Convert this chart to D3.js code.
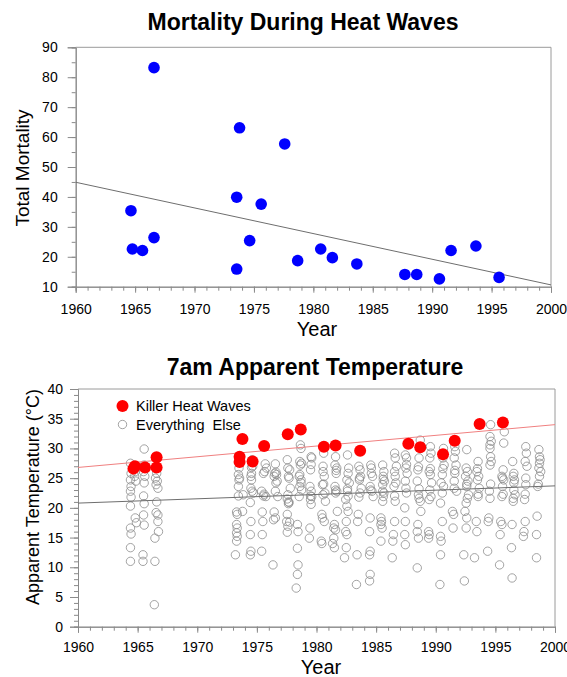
<!DOCTYPE html>
<html>
<head>
<meta charset="utf-8">
<script src="https://cdn.jsdelivr.net/npm/d3@7"></script>
<style>
  html, body { margin: 0; padding: 0; background: #fff; }
  svg { display: block; font-family: Arial, "Liberation Sans", sans-serif; }
</style>
</head>
<body>
<svg id="chart" width="567" height="677"></svg>
<script>
// Heat-wave events (decimal year of each event)
const heatYears = [1964.65, 1964.77, 1965.62, 1966.59, 1966.59, 1973.55, 1973.79, 1973.55, 1974.64, 1975.61,
  1977.59, 1978.68, 1980.62, 1981.60, 1983.66, 1987.70, 1988.70, 1990.61, 1991.59, 1993.68, 1995.63];
// Total deaths during each event
const mortality = [35.4, 22.6, 22.1, 83.2, 26.4, 39.9, 63.1, 15.9, 25.4, 37.6,
  57.7, 18.7, 22.6, 19.7, 17.6, 14.1, 14.1, 12.6, 22.1, 23.6, 13.1];
// 7am apparent temperature (°C) on each event day
const heatTemps = [26.6, 27.0, 26.8, 26.8, 28.5, 28.6, 31.6, 27.7, 27.8, 30.4,
  32.4, 33.2, 30.3, 30.5, 29.6, 30.8, 30.2, 29.0, 31.3, 34.1, 34.35];

// Fitted trend lines: [year, value] at both ends of the axis
const mortalityTrend = [[1960, 44.9], [2000, 10.6]];
const heatTrend = [[1960, 26.8], [2000, 34.0]];
const otherTrend = [[1960, 20.8], [2000, 23.7]];

// All other summer days: [decimal year, 7am apparent temperature]
const otherDays = [
  [1964.40,27.5],[1964.45,25.8],[1964.40,24.7],[1964.45,23.6],[1964.40,22.8],[1964.45,21.8],[1964.40,20.3],[1964.40,16.6],[1964.45,15.6],[1964.40,13.3],[1964.40,11.0],
  [1964.75,27.0],[1964.80,26.1],[1964.75,25.3],[1964.85,24.5],[1964.80,18.3],[1964.90,17.5],
  [1965.55,29.9],[1965.55,27.2],[1965.50,26.1],[1965.60,25.3],[1965.55,24.2],[1965.50,22.0],[1965.55,20.7],[1965.50,18.8],[1965.55,17.1],[1965.45,12.1],[1965.45,11.0],
  [1966.55,26.7],[1966.60,25.8],[1966.50,25.0],[1966.65,24.5],[1966.55,23.9],[1966.70,23.3],[1966.60,21.0],[1966.55,19.2],[1966.70,18.8],[1966.70,17.7],[1966.75,16.0],[1966.45,14.9],[1966.45,11.0],[1966.40,3.7],
  [1973.55,27.8],[1973.50,26.7],[1973.45,25.6],[1973.50,24.7],[1973.45,23.6],[1973.30,19.3],[1973.35,18.9],[1973.30,17.2],[1973.35,16.6],[1973.30,15.8],[1973.35,15.2],[1973.30,14.4],[1973.20,12.1],[1973.85,22.2],[1973.80,19.4],[1973.55,25.0],[1973.45,22.0],
  [1974.60,28.1],[1974.55,26.8],[1974.50,25.3],[1974.55,24.7],[1974.60,22.8],[1974.70,22.5],[1974.45,20.9],[1974.50,17.7],[1974.45,15.5],[1974.50,12.7],[1974.45,12.1],[1974.55,25.8],[1974.65,27.0],[1974.50,23.3],
  [1975.70,27.4],[1975.80,26.7],[1975.55,25.8],[1975.40,22.8],[1975.60,22.3],[1975.75,21.9],[1975.45,19.3],[1975.50,17.7],[1975.45,15.5],[1975.40,12.7],[1975.65,26.1],[1975.55,22.0],
  [1976.55,27.4],[1976.50,25.8],[1976.65,25.6],[1976.45,25.3],[1976.70,24.5],[1976.60,24.2],[1976.55,22.8],[1976.75,21.9],[1976.45,19.3],[1976.55,18.3],[1976.35,10.4],[1976.60,26.0],[1976.40,18.0],
  [1977.55,28.1],[1977.60,26.7],[1977.75,26.4],[1977.65,25.3],[1977.80,23.3],[1977.60,22.2],[1977.55,21.5],[1977.70,20.9],[1977.65,20.7],[1977.55,18.9],[1977.50,17.7],[1977.60,16.9],[1977.55,15.9],[1977.75,17.6],[1977.70,25.0],[1977.65,21.0],
  [1978.65,30.6],[1978.70,30.0],[1978.60,27.8],[1978.75,27.5],[1978.65,27.2],[1978.55,25.3],[1978.70,24.7],[1978.60,23.6],[1978.75,23.0],[1978.55,21.9],[1978.40,17.2],[1978.45,16.0],[1978.40,13.2],[1978.45,10.4],[1978.40,8.8],[1978.30,6.5],[1978.60,25.6],[1978.70,24.2],
  [1979.55,28.6],[1979.60,28.4],[1979.50,26.4],[1979.45,23.6],[1979.55,22.8],[1979.60,21.9],[1979.50,21.4],[1979.55,20.6],[1979.45,16.6],[1979.40,14.9],[1979.50,22.0],[1979.55,27.3],
  [1980.60,29.2],[1980.55,26.1],[1980.65,25.3],[1980.50,23.9],[1980.70,22.5],[1980.55,22.2],[1980.75,21.1],[1980.45,18.9],[1980.50,18.3],[1980.65,17.7],[1980.40,14.4],[1980.45,14.0],[1980.60,24.0],[1980.55,27.0],
  [1981.60,28.6],[1981.55,27.2],[1981.70,26.7],[1981.65,25.8],[1981.55,23.6],[1981.70,22.8],[1981.60,22.5],[1981.75,19.4],[1981.50,17.2],[1981.45,16.6],[1981.60,16.3],[1981.45,14.9],[1981.35,14.0],[1981.50,13.3],[1981.65,26.3],[1981.60,23.0],
  [1982.60,28.9],[1982.70,26.7],[1982.65,25.8],[1982.55,24.7],[1982.75,24.2],[1982.60,22.8],[1982.45,21.4],[1982.55,20.3],[1982.65,19.4],[1982.50,17.7],[1982.45,16.0],[1982.55,15.5],[1982.50,13.3],[1982.35,11.6],[1982.60,23.2],[1982.65,22.0],
  [1983.55,27.0],[1983.65,26.4],[1983.70,25.3],[1983.60,24.7],[1983.75,23.3],[1983.55,21.8],[1983.50,18.9],[1983.45,17.7],[1983.40,12.1],[1983.35,7.1],[1983.60,25.0],[1983.65,22.5],
  [1984.55,27.2],[1984.60,26.7],[1984.70,25.3],[1984.50,23.6],[1984.65,22.8],[1984.75,21.9],[1984.50,18.3],[1984.45,16.0],[1984.50,12.7],[1984.45,12.1],[1984.50,8.8],[1984.45,7.7],[1984.60,25.8],[1984.55,23.0],
  [1985.55,27.2],[1985.65,26.1],[1985.60,25.3],[1985.70,24.5],[1985.55,23.9],[1985.65,22.5],[1985.60,21.9],[1985.55,21.1],[1985.40,18.3],[1985.45,17.7],[1985.40,17.2],[1985.50,16.6],[1985.40,14.4],[1985.60,24.8],[1985.55,22.8],
  [1986.55,29.2],[1986.60,28.4],[1986.70,27.0],[1986.55,26.1],[1986.65,24.2],[1986.50,23.6],[1986.60,21.1],[1986.55,17.7],[1986.45,15.5],[1986.40,14.4],[1986.35,11.6],[1986.60,25.3],[1986.55,22.0],
  [1987.45,28.9],[1987.55,28.4],[1987.50,26.7],[1987.60,25.8],[1987.45,24.5],[1987.40,20.0],[1987.45,17.7],[1987.40,15.5],[1987.45,13.8],[1987.55,27.3],[1987.50,23.3],[1987.55,22.5],
  [1988.70,31.4],[1988.60,28.4],[1988.50,26.4],[1988.45,24.5],[1988.55,22.2],[1988.60,21.6],[1988.70,21.1],[1988.75,19.4],[1988.50,17.2],[1988.45,16.0],[1988.55,14.9],[1988.45,9.9],[1988.55,26.9],[1988.60,23.2],
  [1989.55,30.3],[1989.60,29.2],[1989.50,28.4],[1989.45,26.1],[1989.55,25.6],[1989.65,24.2],[1989.45,21.4],[1989.40,16.0],[1989.45,15.5],[1989.40,14.9],[1989.55,26.6],[1989.50,23.0],[1989.60,21.9],
  [1990.65,30.0],[1990.60,28.4],[1990.70,27.2],[1990.55,25.6],[1990.45,24.2],[1990.65,23.6],[1990.40,20.8],[1990.55,17.7],[1990.40,15.2],[1990.45,14.4],[1990.40,12.1],[1990.35,7.1],[1990.60,26.6],[1990.55,22.5],
  [1991.60,30.3],[1991.65,29.5],[1991.55,28.4],[1991.70,27.2],[1991.60,25.8],[1991.55,24.5],[1991.75,22.8],[1991.40,19.4],[1991.50,18.9],[1991.45,16.6],[1991.60,26.3],[1991.55,23.3],
  [1992.60,29.8],[1992.55,26.7],[1992.65,26.1],[1992.50,25.3],[1992.70,24.5],[1992.60,23.6],[1992.75,22.2],[1992.55,20.8],[1992.45,19.4],[1992.60,18.3],[1992.55,16.6],[1992.35,12.1],[1992.40,7.7],[1992.60,24.0],[1992.65,21.6],
  [1993.55,27.8],[1993.45,26.1],[1993.60,25.3],[1993.50,24.7],[1993.65,23.3],[1993.55,21.9],[1993.40,17.7],[1993.45,16.0],[1993.25,11.6],[1993.50,26.6],[1993.55,22.3],
  [1994.60,34.0],[1994.55,32.0],[1994.65,31.2],[1994.55,30.6],[1994.60,28.6],[1994.65,27.8],[1994.55,27.2],[1994.50,22.8],[1994.55,21.6],[1994.45,18.3],[1994.40,17.7],[1994.35,12.7],[1994.55,30.0],[1994.60,24.0],
  [1995.75,32.8],[1995.70,30.9],[1995.65,26.4],[1995.55,25.3],[1995.70,24.7],[1995.60,23.6],[1995.55,21.9],[1995.45,17.7],[1995.55,17.2],[1995.40,15.5],[1995.35,10.4],[1995.60,25.0],[1995.65,22.3],
  [1996.45,27.8],[1996.55,25.8],[1996.50,25.3],[1996.60,24.7],[1996.55,23.0],[1996.65,22.2],[1996.50,21.1],[1996.40,17.2],[1996.35,13.3],[1996.40,8.2],[1996.55,24.2],[1996.50,21.6],
  [1997.55,30.3],[1997.60,29.2],[1997.50,27.8],[1997.65,27.0],[1997.55,23.9],[1997.45,21.4],[1997.50,17.7],[1997.40,16.0],[1997.35,15.2],[1997.55,25.0],[1997.50,22.3],
  [1998.65,29.8],[1998.70,28.6],[1998.75,28.1],[1998.70,27.5],[1998.65,26.7],[1998.80,26.1],[1998.55,23.6],[1998.50,18.6],[1998.45,15.5],[1998.45,11.6],[1998.70,25.3],[1998.60,24.0]
];

// Axis tick values
const yearTicks = [1960, 1965, 1970, 1975, 1980, 1985, 1990, 1995, 2000];
const mortalityTicks = [10, 20, 30, 40, 50, 60, 70, 80, 90];
const tempTicks = [0, 5, 10, 15, 20, 25, 30, 35, 40];

const svg = d3.select("#chart");
const AXIS = "#8a8a8a";

function styleAxis(g) {
  g.select(".domain").attr("stroke", AXIS);
  g.selectAll(".tick line").attr("stroke", AXIS);
  g.selectAll(".tick text").attr("fill", "#000").style("font-size", "14px")
    .style("font-family", "Arial, 'Liberation Sans', sans-serif");
}

function drawFrame(x, y, opts) {
  const [x0, x1] = x.range();
  const [y0, y1] = y.range(); // bottom, top
  const g = svg.append("g");

  // minor ticks
  g.append("g").attr("transform", `translate(0,${y0})`)
    .call(d3.axisBottom(x).tickValues(d3.range(1960, 2001, 1)).tickSize(4).tickFormat(""))
    .call(styleAxis);
  g.append("g").attr("transform", `translate(${x0},0)`)
    .call(d3.axisLeft(y).tickValues(opts.yMinor).tickSize(4).tickFormat(""))
    .call(styleAxis);

  // major ticks with labels
  g.append("g").attr("transform", `translate(0,${y0})`)
    .call(d3.axisBottom(x).tickValues(yearTicks).tickSize(6).tickPadding(opts.xPad).tickFormat(d3.format("d")))
    .call(styleAxis);
  g.append("g").attr("transform", `translate(${x0},0)`)
    .call(d3.axisLeft(y).tickValues(opts.yTicks).tickSize(8).tickPadding(opts.yPad))
    .call(styleAxis);

  // top and right border
  g.append("path")
    .attr("d", `M${x0},${y1}H${x1}V${y0}`)
    .attr("fill", "none").attr("stroke", "#9a9a9a").attr("stroke-width", 1);
  return g;
}

const line = (x, y) => d3.line().x(d => x(d[0])).y(d => y(d[1]));

/* ---------- Mortality During Heat Waves ---------- */
const x1 = d3.scaleLinear().domain([1960, 2000]).range([75.7, 551]);
const y1 = d3.scaleLinear().domain([10, 90]).range([286.7, 47.3]);

drawFrame(x1, y1, { yTicks: mortalityTicks, yMinor: d3.range(10, 91, 5), xPad: 11, yPad: 10 });

svg.append("path").datum(mortalityTrend)
  .attr("d", line(x1, y1))
  .attr("fill", "none").attr("stroke", "#6e6e6e").attr("stroke-width", 1);

svg.append("g").selectAll("circle")
  .data(heatYears.map((yr, i) => [yr, mortality[i]]))
  .join("circle")
  .attr("cx", d => x1(d[0])).attr("cy", d => y1(d[1]))
  .attr("r", 5.8).attr("fill", "#0000ff");

svg.append("text").attr("x", 303).attr("y", 29.5).attr("text-anchor", "middle")
  .style("font-size", "23px").style("font-weight", "bold").text("Mortality During Heat Waves");
svg.append("text").attr("x", 317).attr("y", 336).attr("text-anchor", "middle")
  .style("font-size", "20px").text("Year");
svg.append("text").attr("transform", "translate(29,168) rotate(-90)").attr("text-anchor", "middle")
  .style("font-size", "19px").text("Total Mortality");

/* ---------- 7am Apparent Temperature ---------- */
const x2 = d3.scaleLinear().domain([1960, 2000]).range([78, 555]);
const y2 = d3.scaleLinear().domain([0, 40]).range([626.7, 389]);

drawFrame(x2, y2, { yTicks: tempTicks, yMinor: d3.range(0, 41, 1), xPad: 9, yPad: 7 });

svg.append("g").selectAll("circle")
  .data(otherDays)
  .join("circle")
  .attr("cx", d => x2(d[0])).attr("cy", d => y2(d[1]))
  .attr("r", 4.2).attr("fill", "none").attr("stroke", "#8c8c8c").attr("stroke-width", 0.8);

svg.append("path").datum(otherTrend)
  .attr("d", line(x2, y2))
  .attr("fill", "none").attr("stroke", "#6e6e6e").attr("stroke-width", 1);
svg.append("path").datum(heatTrend)
  .attr("d", line(x2, y2))
  .attr("fill", "none").attr("stroke", "#f08080").attr("stroke-width", 1);

svg.append("g").selectAll("circle")
  .data(heatYears.map((yr, i) => [yr, heatTemps[i]]))
  .join("circle")
  .attr("cx", d => x2(d[0])).attr("cy", d => y2(d[1]))
  .attr("r", 6).attr("fill", "#ff0000");

// legend
const legend = svg.append("g");
legend.append("circle").attr("cx", 122.5).attr("cy", 406).attr("r", 6).attr("fill", "#ff0000");
legend.append("text").attr("x", 136).attr("y", 411).style("font-size", "14.5px").text("Killer Heat Waves");
legend.append("circle").attr("cx", 122.5).attr("cy", 424.5).attr("r", 4.2)
  .attr("fill", "none").attr("stroke", "#8c8c8c").attr("stroke-width", 0.8);
legend.append("text").attr("x", 136).attr("y", 429.5).style("font-size", "14.5px")
  .style("white-space", "pre").text("Everything  Else");

svg.append("text").attr("x", 315).attr("y", 375).attr("text-anchor", "middle")
  .style("font-size", "23px").style("font-weight", "bold").text("7am Apparent Temperature");
svg.append("text").attr("x", 321).attr("y", 674).attr("text-anchor", "middle")
  .style("font-size", "20px").text("Year");
svg.append("text").attr("transform", "translate(39,497) rotate(-90)").attr("text-anchor", "middle")
  .style("font-size", "18px").text("Apparent Temperature (°C)");
</script>
</body>
</html>
